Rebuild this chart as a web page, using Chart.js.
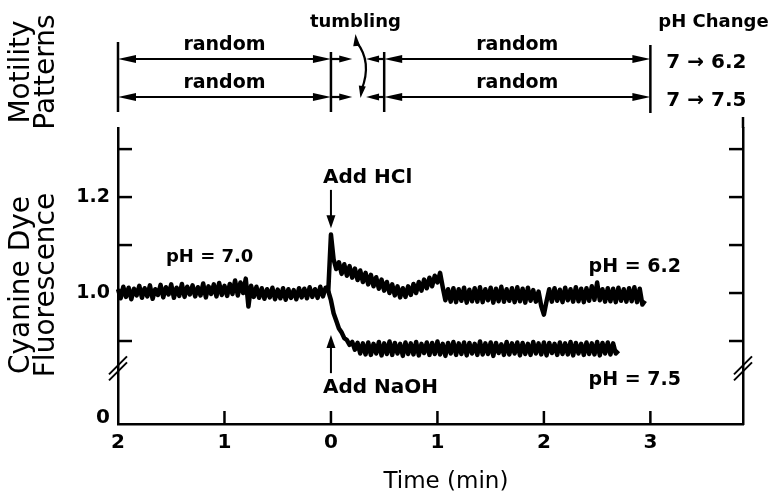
<!DOCTYPE html>
<html>
<head>
<meta charset="utf-8">
<script src="https://cdn.jsdelivr.net/npm/chart.js@4.4.1/dist/chart.umd.min.js"></script>
<style>
  html, body { margin: 0; background: #fff; }
  #wrap { width: 778px; height: 496px; }
</style>
</head>
<body>
<div id="wrap"><canvas id="dye" width="778" height="496"></canvas></div>
<script>
// ── Data ───────────────────────────────────────────────────────────────────
// time in min, negative = before the addition; samples every 0.025 min
const STEP = 0.025;
const BASE_START = -2;

// pH 7.0 baseline, t = -2.000 … -0.025
const BASELINE = [
  1.008, 0.989, 1.013, 0.992, 1.011, 0.987, 1.009, 0.995, 1.015, 0.990,
  1.010, 0.993, 1.016, 0.988, 1.008, 0.996, 1.017, 0.991, 1.012, 0.997,
  1.018, 0.990, 1.011, 0.994, 1.019, 0.992, 1.013, 0.997, 1.016, 0.993,
  1.012, 0.995, 1.020, 0.991, 1.014, 0.998, 1.018, 0.993, 1.021, 0.996,
  1.015, 0.994, 1.019, 0.998, 1.026, 0.995, 1.022, 1.000, 1.030, 0.972,
  1.015, 0.992, 1.013, 0.990, 1.010, 0.988, 1.008, 0.991, 1.011, 0.987,
  1.007, 0.989, 1.010, 0.986, 1.008, 0.990, 1.006, 0.987, 1.010, 0.991,
  1.009, 0.989, 1.012, 0.992, 1.008, 0.990, 1.013, 0.993, 1.011, 1.004
];

// after HCl (pH 6.2), t = 0 … 2.95
const HCL_TRACE = [
  1.122, 1.070, 1.050, 1.064, 1.040, 1.060, 1.036, 1.056, 1.032, 1.051,
  1.027, 1.047, 1.023, 1.042, 1.018, 1.038, 1.014, 1.033, 1.009, 1.028,
  1.005, 1.023, 1.000, 1.018, 0.995, 1.014, 0.991, 1.010, 0.992, 1.014,
  0.996, 1.019, 1.000, 1.023, 1.005, 1.028, 1.010, 1.032, 1.014, 1.036,
  1.022, 1.042, 1.012, 0.985, 1.008, 0.982, 1.010, 0.981, 1.008, 0.984,
  1.011, 0.980, 1.007, 0.983, 1.010, 0.982, 1.012, 0.981, 1.008, 0.985,
  1.011, 0.980, 1.009, 0.983, 1.013, 0.982, 1.008, 0.984, 1.010, 0.981,
  1.012, 0.983, 1.009, 0.980, 1.011, 0.984, 1.006, 0.982, 1.003, 0.973,
  0.955, 0.983, 1.008, 0.982, 1.010, 0.984, 1.007, 0.981, 1.011, 0.985,
  1.008, 0.982, 1.012, 0.983, 1.009, 0.981, 1.010, 0.984, 1.014, 0.986,
  1.022, 0.985, 1.008, 0.982, 1.010, 0.983, 1.009, 0.981, 1.011, 0.984,
  1.008, 0.982, 1.010, 0.983, 1.012, 0.981, 1.009, 0.976, 0.984
];

// after NaOH (pH 7.5), t = 0 … 2.70
const NAOH_TRACE = [
  0.985, 0.958, 0.942, 0.926, 0.918, 0.906, 0.902, 0.892, 0.898, 0.882,
  0.896, 0.874, 0.895, 0.872, 0.897, 0.871, 0.894, 0.874, 0.898, 0.870,
  0.895, 0.873, 0.899, 0.871, 0.896, 0.874, 0.894, 0.869, 0.897, 0.873,
  0.895, 0.872, 0.898, 0.870, 0.894, 0.875, 0.897, 0.871, 0.896, 0.873,
  0.899, 0.872, 0.894, 0.869, 0.896, 0.874, 0.898, 0.871, 0.895, 0.873,
  0.897, 0.870, 0.896, 0.874, 0.894, 0.871, 0.899, 0.872, 0.895, 0.873,
  0.897, 0.869, 0.896, 0.875, 0.893, 0.871, 0.898, 0.872, 0.895, 0.874,
  0.897, 0.870, 0.896, 0.873, 0.894, 0.871, 0.898, 0.874, 0.895, 0.872,
  0.897, 0.870, 0.896, 0.875, 0.894, 0.871, 0.897, 0.873, 0.895, 0.872,
  0.898, 0.870, 0.896, 0.874, 0.894, 0.871, 0.897, 0.873, 0.895, 0.872,
  0.898, 0.870, 0.896, 0.874, 0.897, 0.872, 0.895, 0.874, 0.880
];

const X_TICKS   = [-2, -1, 0, 1, 2, 3];
const Y_TICKS   = [0.9, 1.0, 1.1, 1.2, 1.3];
const Y_LABELED = [1.0, 1.2];

// motility panel: interval boundaries (min) and the pH change per row
const PHASES    = [-2, 0, 0.5, 3];
const PH_CHANGE = ['7 → 6.2', '7 → 7.5'];

// ── Build series ──────────────────────────────────────────────────────────
const basePts = BASELINE.map((v, i) => ({ x: BASE_START + i * STEP, y: v }));
const hclPts  = basePts.concat(HCL_TRACE.map((v, i) => ({ x: i * STEP, y: v })));
const naohPts = [basePts[basePts.length - 1]].concat(NAOH_TRACE.map((v, i) => ({ x: i * STEP, y: v })));

const FONT = '"DejaVu Sans", sans-serif';
const Y_MIN = 0.727, Y_MAX = 1.344, Y_BREAK = 0.845;

// ── Helpers ───────────────────────────────────────────────────────────────
function head(ctx, x, y, dx, dy, len, half) {
  ctx.beginPath();
  ctx.moveTo(x, y);
  ctx.lineTo(x - dx * len - dy * half, y - dy * len + dx * half);
  ctx.lineTo(x - dx * len + dy * half, y - dy * len - dx * half);
  ctx.closePath();
  ctx.fill();
}
function line(ctx, x1, y1, x2, y2) {
  ctx.beginPath(); ctx.moveTo(x1, y1); ctx.lineTo(x2, y2); ctx.stroke();
}
function text(ctx, s, x, y, size, weight, align) {
  ctx.font = `${weight} ${size}px ${FONT}`;
  ctx.textAlign = align || 'left';
  ctx.textBaseline = 'middle';
  ctx.fillText(s, x, y);
}
function vtext(ctx, s, x, y, size) {
  ctx.save();
  ctx.translate(x, y);
  ctx.rotate(-Math.PI / 2);
  text(ctx, s, 0, 0, size, 'normal', 'center');
  ctx.restore();
}

// ── Plugin: inward ticks, breaks, annotations, motility panel ─────────────
const figureDecor = {
  id: 'figureDecor',
  afterDraw(chart) {
    const { ctx, chartArea: a, scales: { x, y } } = chart;
    const X = t => x.getPixelForValue(t);
    const Y = v => y.getPixelForValue(v);
    ctx.save();
    ctx.strokeStyle = '#000';
    ctx.fillStyle = '#000';
    ctx.lineCap = 'butt';

    // inward tick marks
    ctx.lineWidth = 2.5;
    X_TICKS.slice(1).forEach(t => line(ctx, X(t), a.bottom, X(t), a.bottom - 13));
    Y_TICKS.forEach(v => {
      line(ctx, a.left, Y(v), a.left + 14, Y(v));
      line(ctx, a.right - 14, Y(v), a.right, Y(v));
    });
    // right axis runs a little higher than the left one
    line(ctx, a.right, a.top, a.right, a.top - 11);

    // axis breaks
    ctx.lineWidth = 2;
    const yb = Y(Y_BREAK);
    [a.left, a.right].forEach(px => {
      line(ctx, px - 9, yb + 7, px + 9, yb - 11);
      line(ctx, px - 9, yb + 13, px + 9, yb - 5);
    });

    // y zero at the bottom of the broken axis
    text(ctx, '0', a.left - 15, a.bottom - 6, 20, 'bold', 'center');

    // axis titles
    vtext(ctx, 'Motility', 22, 72, 28);
    vtext(ctx, 'Patterns', 47, 72, 28);
    vtext(ctx, 'Cyanine Dye', 22, 285, 28);
    vtext(ctx, 'Fluorescence', 47, 285, 28);
    text(ctx, 'Time (min)', X(1.08), 482, 23, 'normal', 'center');

    // trace labels
    text(ctx, 'pH = 7.0', X(-1.55), Y(1.075), 18, 'bold');
    text(ctx, 'pH = 6.2', X(2.42), Y(1.054), 19, 'bold');
    text(ctx, 'pH = 7.5', X(2.42), Y(0.819), 19, 'bold');

    // additions
    const x0 = X(0);
    text(ctx, 'Add HCl', x0 - 8, Y(1.24), 20, 'bold');
    text(ctx, 'Add NaOH', x0 - 8, Y(0.802), 20, 'bold');
    ctx.lineWidth = 2;
    line(ctx, x0, Y(1.215), x0, Y(1.15));
    head(ctx, x0, Y(1.135), 0, 1, 13, 4.5);
    line(ctx, x0, Y(0.833), x0, Y(0.895));
    head(ctx, x0, Y(0.9125), 0, -1, 13, 4.5);

    // motility panel
    const rows = [59, 97];
    const [p0, p1, p2, p3] = PHASES.map(X);
    ctx.lineWidth = 2.5;
    line(ctx, p0, 42, p0, 112);
    line(ctx, p1, 52, p1, 112);
    line(ctx, p2, 52, p2, 112);
    line(ctx, p3, 45, p3, 113);
    const tumbleL = X(0.2), tumbleR = X(0.33);
    rows.forEach((ry, i) => {
      ctx.lineWidth = 2.2;
      // random: before the addition
      line(ctx, p0 + 8, ry, p1 - 8, ry);
      head(ctx, p0, ry, -1, 0, 18, 4);
      head(ctx, p1, ry, 1, 0, 18, 4);
      // into / out of the tumbling interval
      line(ctx, p1, ry, tumbleL - 6, ry);
      head(ctx, tumbleL, ry, 1, 0, 13, 3.5);
      line(ctx, tumbleR + 6, ry, p2, ry);
      head(ctx, tumbleR, ry, -1, 0, 13, 3.5);
      // random: after recovery
      line(ctx, p2 + 8, ry, p3 - 8, ry);
      head(ctx, p2, ry, -1, 0, 18, 4);
      head(ctx, p3, ry, 1, 0, 18, 4);
      text(ctx, 'random', (p0 + p1) / 2, ry - 14, 19, 'bold', 'center');
      text(ctx, 'random', (p2 + p3) / 2, ry - 14, 19, 'bold', 'center');
      text(ctx, PH_CHANGE[i], p3 + 16, ry + 4, 20, 'bold');
    });
    // tumbling: curved double arrow
    const tx = X(0.24);
    ctx.lineWidth = 2.2;
    ctx.beginPath();
    ctx.moveTo(tx, 42);
    ctx.quadraticCurveTo(tx + 16, 62, tx + 5, 90);
    ctx.stroke();
    head(ctx, tx - 1, 34, -0.1, -1, 12, 3.5);
    head(ctx, tx + 4, 98, -0.15, 1, 12, 3.5);
    text(ctx, 'tumbling', X(0.23), 22, 18, 'bold', 'center');
    text(ctx, 'pH Change', p3 + 8, 22, 18, 'bold');

    ctx.restore();
  }
};

// ── Chart ─────────────────────────────────────────────────────────────────
const trace = (label, data) => ({
  label, data,
  borderColor: '#000', borderWidth: 4.5, pointRadius: 0,
  borderJoinStyle: 'round', tension: 0, fill: false, clip: false
});

new Chart(document.getElementById('dye'), {
  type: 'line',
  data: {
    datasets: [
      trace('HCl → pH 6.2', hclPts),
      trace('NaOH → pH 7.5', naohPts)
    ]
  },
  options: {
    responsive: false,
    animation: false,
    devicePixelRatio: 1,
    parsing: false,
    layout: { padding: { top: 128, left: 0, right: 0, bottom: 0 } },
    plugins: { legend: { display: false }, tooltip: { enabled: false } },
    scales: {
      x: {
        type: 'linear', min: -2, max: 3.87,
        afterFit: s => { s.height = 72; },
        afterBuildTicks: s => { s.ticks = X_TICKS.map(v => ({ value: v })); },
        grid: { display: false, drawTicks: false },
        border: { display: true, color: '#000', width: 2.5 },
        ticks: {
          color: '#000', padding: 7,
          font: { family: FONT, size: 20, weight: 'bold' },
          callback: v => String(Math.abs(v))
        }
      },
      y: {
        type: 'linear', min: Y_MIN, max: Y_MAX,
        afterFit: s => { s.width = 118; },
        afterBuildTicks: s => { s.ticks = Y_TICKS.map(v => ({ value: v })); },
        grid: { display: false, drawTicks: false },
        border: { display: true, color: '#000', width: 2.5 },
        ticks: {
          color: '#000', padding: 8,
          font: { family: FONT, size: 19, weight: 'bold' },
          callback: v => Y_LABELED.some(l => Math.abs(l - v) < 1e-6) ? v.toFixed(1) : ''
        }
      },
      y2: {
        type: 'linear', position: 'right', min: Y_MIN, max: Y_MAX,
        afterFit: s => { s.width = 35; },
        grid: { display: false, drawTicks: false },
        border: { display: true, color: '#000', width: 2.5 },
        ticks: { display: false }
      }
    }
  },
  plugins: [figureDecor]
});
</script>
</body>
</html>
